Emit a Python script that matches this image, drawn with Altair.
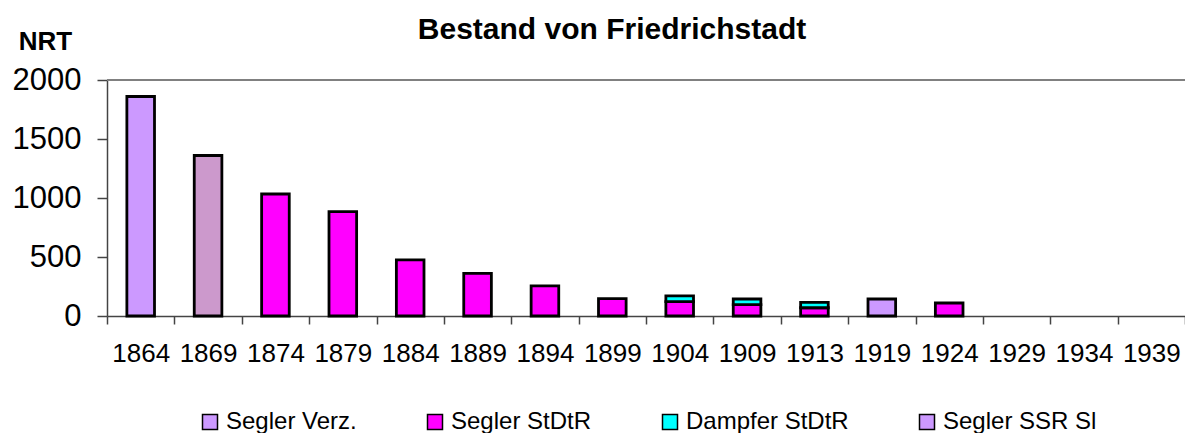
import altair as alt
import pandas as pd

years = ["1864", "1869", "1874", "1879", "1884", "1889", "1894", "1899",
         "1904", "1909", "1913", "1919", "1924", "1929", "1934", "1939"]

segler_verz = {"1864": 1860}
segler_1869 = {"1869": 1360}
segler_stdtr = {"1874": 1034, "1879": 884, "1884": 475, "1889": 362, "1894": 255,
                "1899": 147, "1904": 121, "1909": 96, "1913": 70, "1924": 110}
dampfer_stdtr = {"1904": 50, "1909": 48, "1913": 46}
segler_ssr_sl = {"1919": 144}

series_names = ["Segler Verz.", "Segler StDtR", "Dampfer StDtR", "Segler SSR Sl", "Segler 1869"]
series_colors = ["#CC99FF", "#FF00FF", "#00FFFF", "#CC99FF", "#CC99CC"]
legend_names = ["Segler Verz.", "Segler StDtR", "Dampfer StDtR", "Segler SSR Sl"]

rows = []
for order, (name, vals) in enumerate([
        ("Segler Verz.", segler_verz),
        ("Segler 1869", segler_1869),
        ("Segler StDtR", segler_stdtr),
        ("Dampfer StDtR", dampfer_stdtr),
        ("Segler SSR Sl", segler_ssr_sl)]):
    for y, v in vals.items():
        rows.append({"year": y, "series": name, "value": v, "ord": order})
df = pd.DataFrame(rows)

FONT = "Liberation Sans"

bars = alt.Chart(df).mark_bar(
    stroke="black", strokeWidth=2.8, width=alt.RelativeBandSize(0.41)
).encode(
    x=alt.X("year:N", sort=years,
            scale=alt.Scale(domain=years, paddingInner=0, paddingOuter=0),
            axis=alt.Axis(title=None, labelAngle=0, tickBand="extent",
                          labelFontSize=26, labelColor="black", labelFont=FONT,
                          labelPadding=16, tickSize=8, tickColor="#444444",
                          tickWidth=1.5, domainColor="#444444", domainWidth=1.5,
                          grid=False)),
    y=alt.Y("value:Q", stack="zero",
            scale=alt.Scale(domain=[0, 2000], nice=False),
            axis=alt.Axis(values=[0, 500, 1000, 1500, 2000], grid=False,
                          format="d",
                          tickSize=10, tickColor="#444444", tickWidth=1.5,
                          domainColor="#444444", domainWidth=1.5,
                          labelFontSize=31, labelColor="black", labelFont=FONT,
                          labelPadding=16,
                          title="NRT", titleAngle=0, titleX=-62, titleY=-31,
                          titleAlign="center", titleBaseline="alphabetic",
                          titleFontSize=26, titleFontWeight="bold",
                          titleFont=FONT, titleColor="black")),
    color=alt.Color("series:N",
                    scale=alt.Scale(domain=series_names, range=series_colors),
                    legend=alt.Legend(values=legend_names, title=None,
                                      orient="none", legendX=91, legendY=330,
                                      direction="horizontal", columns=4,
                                      columnPadding=66, gridAlign="none",
                                      symbolType="square", symbolSize=225,
                                      symbolStrokeColor="black",
                                      symbolStrokeWidth=1.5,
                                      symbolOpacity=1, labelLimit=400,
                                      labelFontSize=24, labelFont=FONT,
                                      labelColor="black", labelOffset=4)),
    order=alt.Order("ord:Q")
)

top_rule = alt.Chart(df).mark_rule(color="#808080", strokeWidth=1.5).encode(
    y=alt.datum(2000)
)

chart = alt.layer(top_rule, bars).properties(
    width=1078, height=236,
    padding={"left": 99, "top": 72, "right": 0, "bottom": 117},
    autosize=alt.AutoSizeParams(type="none"),
    title=alt.TitleParams("Bestand von Friedrichstadt", fontSize=30,
                          fontWeight="bold", font=FONT, color="black",
                          anchor="middle", frame="group", dx=-34, offset=0,
                          dy=17)
).configure_view(stroke=None).configure(background="white")

chart.save("out.html", embed_options={"renderer": "svg", "actions": False})
